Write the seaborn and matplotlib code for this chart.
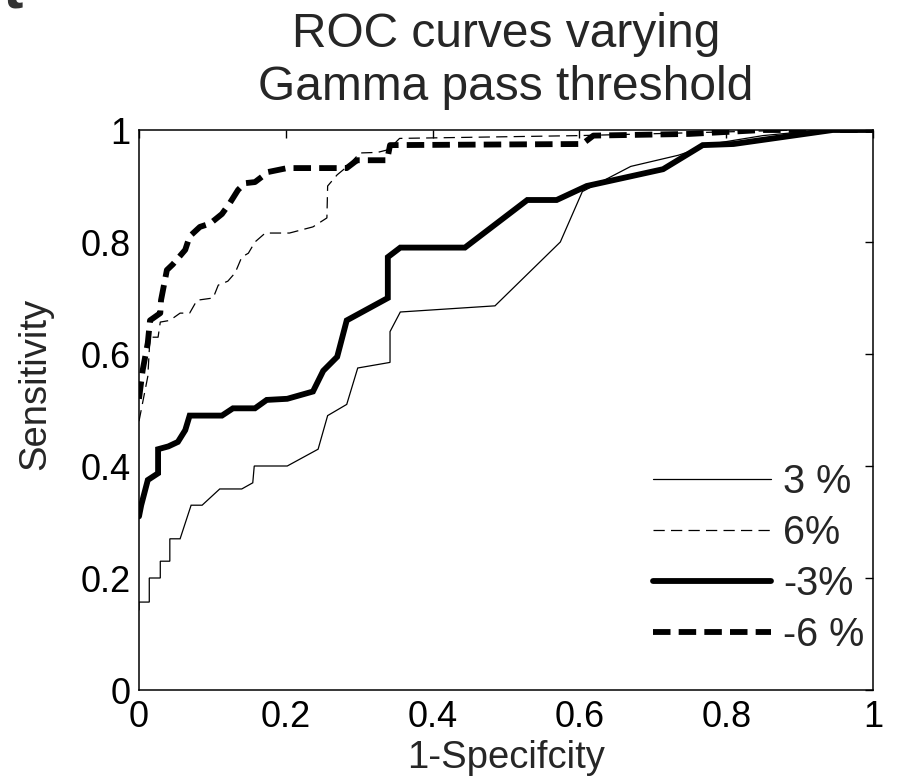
import matplotlib
matplotlib.use("Agg")
import matplotlib.pyplot as plt
import seaborn as sns
from matplotlib.lines import Line2D

# ---- data ----
fpr_3 = [0, 0, 0.014, 0.014, 0.029, 0.029, 0.042, 0.042, 0.056, 0.071, 0.086, 0.11, 0.14, 0.155,
         0.157, 0.202, 0.244, 0.257, 0.283, 0.298, 0.342, 0.342, 0.356, 0.485, 0.574, 0.604, 0.67,
         0.735, 0.78, 0.85, 0.93, 1.0]
tpr_3 = [0.143, 0.157, 0.157, 0.20, 0.20, 0.23, 0.23, 0.27, 0.27, 0.33, 0.33, 0.359, 0.359, 0.37,
         0.40, 0.40, 0.43, 0.49, 0.51, 0.575, 0.585, 0.64, 0.675, 0.686, 0.80, 0.89, 0.935,
         0.955, 0.975, 0.99, 1.0, 1.0]

fpr_6 = [0, 0.012, 0.015, 0.026, 0.029, 0.042, 0.056, 0.069, 0.079, 0.101, 0.108, 0.121, 0.131,
         0.14, 0.149, 0.158, 0.172, 0.205, 0.237, 0.256, 0.257, 0.27, 0.283, 0.301, 0.325, 0.34,
         0.355, 0.60, 0.75, 0.9, 1.0]
tpr_6 = [0.48, 0.56, 0.63, 0.63, 0.657, 0.66, 0.673, 0.673, 0.696, 0.70, 0.723, 0.73, 0.745,
         0.773, 0.78, 0.80, 0.816, 0.816, 0.827, 0.843, 0.90, 0.92, 0.934, 0.959, 0.96, 0.965,
         0.985, 0.99, 0.995, 1.0, 1.0]

fpr_m3 = [0, 0.003, 0.012, 0.026, 0.026, 0.040, 0.053, 0.063, 0.069, 0.113, 0.128, 0.158, 0.174,
          0.202, 0.237, 0.251, 0.27, 0.283, 0.339, 0.339, 0.356, 0.444, 0.529, 0.569, 0.61, 0.714,
          0.768, 0.81, 0.945, 1.0]
tpr_m3 = [0.31, 0.33, 0.375, 0.387, 0.43, 0.435, 0.443, 0.464, 0.49, 0.49, 0.503, 0.503, 0.518,
          0.52, 0.533, 0.57, 0.595, 0.66, 0.70, 0.773, 0.79, 0.79, 0.875, 0.875, 0.90, 0.93,
          0.973, 0.975, 1.0, 1.0]

fpr_m6 = [0, 0.005, 0.012, 0.015, 0.029, 0.030, 0.038, 0.046, 0.063, 0.069, 0.083, 0.097, 0.113,
          0.124, 0.135, 0.144, 0.158, 0.176, 0.202, 0.283, 0.297, 0.338, 0.342, 0.604, 0.619,
          0.75, 0.85, 1.0]
tpr_m6 = [0.52, 0.571, 0.62, 0.66, 0.673, 0.696, 0.75, 0.76, 0.786, 0.81, 0.827, 0.833, 0.85,
          0.87, 0.893, 0.905, 0.907, 0.925, 0.932, 0.932, 0.946, 0.946, 0.973, 0.975, 0.99,
          0.993, 1.0, 1.0]

labels = ["3 %", "6%", "-3%", "-6 %"]
tick_vals = [0, 0.2, 0.4, 0.6, 0.8, 1]
tick_labels = ["0", "0.2", "0.4", "0.6", "0.8", "1"]
title_lines = ["ROC curves varying", "Gamma pass threshold"]
xlabel = "1-Specifcity"
ylabel = "Sensitivity"

# ---- style ----
sns.set_style("white")
plt.rcParams["font.family"] = ["Liberation Sans", "DejaVu Sans"]

W, H = 897, 780
fig = plt.figure(figsize=(W / 100, H / 100), dpi=100)
ax = fig.add_axes([139 / W, 90 / H, 734 / W, 560 / H])

thin = 0.9
thick = 4.2
styles = [
    dict(lw=thin, dashes=()),
    dict(lw=thin, dashes=(9, 5)),
    dict(lw=thick, dashes=()),
    dict(lw=thick, dashes=(3.0, 1.4)),
]
series = [(fpr_3, tpr_3), (fpr_6, tpr_6), (fpr_m3, tpr_m3), (fpr_m6, tpr_m6)]

for (xs, ys), st in zip(series, styles):
    kw = dict(color="black", linewidth=st["lw"], sort=False, estimator=None, ax=ax,
              solid_joinstyle="miter")
    if st["dashes"]:
        kw["dashes"] = st["dashes"]
    sns.lineplot(x=xs, y=ys, **kw)

ax.set_xlim(0, 1)
ax.set_ylim(0, 1)
ax.set_xticks(tick_vals)
ax.set_xticklabels(tick_labels)
ax.set_yticks(tick_vals)
ax.set_yticklabels(tick_labels)
ax.tick_params(direction="in", length=6, width=1, top=True, right=True,
               labelsize=26, colors="black", pad=6)
ax.tick_params(axis="x", pad=7)
for s in ax.spines.values():
    s.set_color("black")
    s.set_linewidth(1.1)
ax.set_xlabel("")
ax.set_ylabel("")

# title, axis labels
fig.text(506 / W, 1 - 47 / H, title_lines[0], ha="center", va="baseline", fontsize=34.5)
fig.text(506 / W, 1 - 100 / H, title_lines[1], ha="center", va="baseline", fontsize=34.5)
fig.text(506 / W, 1 - 758 / H, xlabel, ha="center", va="center", fontsize=27.5)
fig.text(35 / W, 1 - 384 / H, ylabel, ha="center", va="center", rotation=90, fontsize=27.5)

# partial glyph at top-left corner of the source image
fig.text(2 / W, 1 - 8 / H, "t", ha="left", va="baseline", fontsize=44,
         fontweight="bold", color="#333333")

# legend
handles = []
for st in styles:
    if st["dashes"]:
        handles.append(Line2D([], [], color="black", lw=st["lw"], dashes=st["dashes"]))
    else:
        handles.append(Line2D([], [], color="black", lw=st["lw"]))
leg = ax.legend(handles, labels, loc="upper left",
                bbox_to_anchor=(653 / W, 1 - 463 / H), bbox_transform=fig.transFigure,
                frameon=False, fontsize=28.5, handlelength=2.98, handletextpad=0.3,
                labelspacing=0.33, borderpad=0, borderaxespad=0)

fig.savefig("out.png", dpi=100)
